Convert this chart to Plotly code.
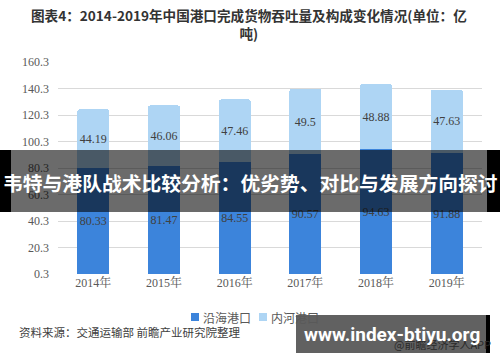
import plotly.graph_objects as go

years = ["2014年", "2015年", "2016年", "2017年", "2018年", "2019年"]
coastal = [80.33, 81.47, 84.55, 90.57, 94.63, 91.88]
inland = [44.19, 46.06, 47.46, 49.5, 48.88, 47.63]
y_ticks = [0.3, 20.3, 40.3, 60.3, 80.3, 100.3, 120.3, 140.3, 160.3]
series_names = ["沿海港口", "内河港口"]
series_colors = ["#3C84DB", "#AED5F4"]

W, H = 500, 362
L, R, T, B = 58, 18, 62, 88
PW, PH = W - L - R, H - T - B


def px(x):
    return (x - L) / PW


def py(y):
    return (H - B - y) / PH


serif = "Liberation Serif, Noto Serif CJK SC, Noto Sans CJK SC, serif"
cjk = "Noto Sans CJK SC, sans-serif"

fig = go.Figure()
for name, vals, col in zip(series_names, [coastal, inland], series_colors):
    fig.add_trace(go.Bar(
        x=years, y=vals, name=name,
        marker=dict(color=col, line=dict(width=0)),
        text=[f"{v:g}" for v in vals], textposition="inside",
        insidetextanchor="middle", textangle=0, constraintext="none",
        textfont=dict(color="#404040", size=12, family=serif),
        showlegend=False, hoverinfo="skip",
    ))

annotations = [
    dict(text="<b>图表4：2014-2019年中国港口完成货物吞吐量及构成变化情况(单位：亿<br>吨)</b>",
         xref="paper", yref="paper", x=px(249), y=py(24), xanchor="center", yanchor="middle",
         showarrow=False, font=dict(size=13.6, color="#333333", family=cjk), align="center"),
    dict(text="资料来源：交通运输部 前瞻产业研究院整理", xref="paper", yref="paper",
         x=px(17), y=py(332), xanchor="left", yanchor="middle", showarrow=False,
         font=dict(size=11.5, color="#404040", family=cjk)),
    dict(text="@前瞻经济学人APP", xref="paper", yref="paper",
         x=px(493), y=py(344), xanchor="right", yanchor="middle", showarrow=False,
         font=dict(size=11, color="#2a2a2a", family=cjk)),
    dict(text="<b>韦特与港队战术比较分析：优劣势、对比与发展方向探讨</b>", xref="paper", yref="paper",
         x=px(250), y=py(182), xanchor="center", yanchor="middle", showarrow=False,
         font=dict(size=19.8, color="white", family=cjk)),
    dict(text="<b>www.index-btiyu.org</b>", xref="paper", yref="paper",
         x=px(392), y=py(334), xanchor="center", yanchor="middle", showarrow=False,
         font=dict(size=19, color="white", family="Roboto, sans-serif")),
]

# manual legend (text + swatches)
legend_sq = [195, 263]
for cx, name, col in zip(legend_sq, series_names, series_colors):
    annotations.append(dict(text=name, xref="paper", yref="paper", x=px(cx + 6), y=py(317),
                            xanchor="left", yanchor="middle", showarrow=False,
                            font=dict(size=12, color="#595959", family=cjk)))

fig.update_layout(
    width=W, height=H,
    margin=dict(l=L, r=R, t=T, b=B, autoexpand=False),
    barmode="stack", bargap=0.55, barcornerradius=2,
    paper_bgcolor="white", plot_bgcolor="white",
    showlegend=False, hovermode=False,
    xaxis=dict(showgrid=False, showline=False, ticks="",
               tickfont=dict(size=12, color="#595959", family=serif)),
    yaxis=dict(range=[0.3, 160.3], tickvals=y_ticks, ticktext=[f"{v:.1f}" for v in y_ticks],
               showgrid=True, gridcolor="#D9D9D9", gridwidth=1, zeroline=False, showline=False,
               tickfont=dict(size=12, color="#595959", family=serif), ticklabelstandoff=8),
    annotations=annotations,
)

for cx, col in zip(legend_sq, series_colors):
    fig.add_shape(type="rect", xref="paper", yref="paper", x0=px(cx - 4), x1=px(cx + 4),
                  y0=py(321), y1=py(313), fillcolor=col, line=dict(width=0), layer="above")

# banner: black edges + translucent gray middle
fig.add_shape(type="rect", xref="paper", yref="paper", x0=px(0), x1=px(11), y0=py(212), y1=py(150),
              fillcolor="black", line=dict(width=0), layer="above")
fig.add_shape(type="rect", xref="paper", yref="paper", x0=px(487), x1=px(500), y0=py(212), y1=py(150),
              fillcolor="black", line=dict(width=0), layer="above")
fig.add_shape(type="rect", xref="paper", yref="paper", x0=px(11), x1=px(487), y0=py(212), y1=py(150),
              fillcolor="rgba(0,0,0,0.58)", line=dict(width=0), layer="above")
# watermark box
fig.add_shape(type="rect", xref="paper", yref="paper", x0=px(296), x1=px(486), y0=py(353), y1=py(315),
              fillcolor="rgba(0,0,0,0.62)", line=dict(width=0), layer="above")
fig.add_shape(type="rect", xref="paper", yref="paper", x0=px(486), x1=px(490), y0=py(353), y1=py(315),
              fillcolor="black", line=dict(width=0), layer="above")

fig.write_html("out.html", config={"displayModeBar": False, "staticPlot": True},
               post_script="document.body.style.margin='0';")
